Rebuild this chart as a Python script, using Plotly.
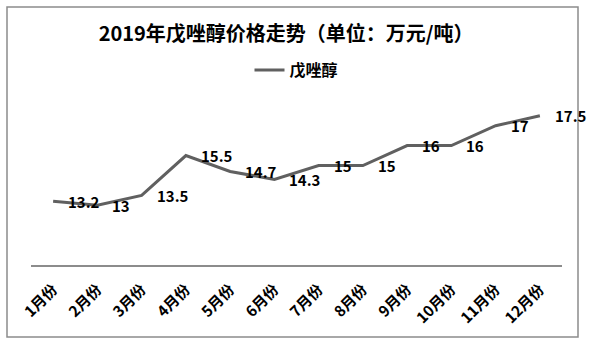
import plotly.graph_objects as go

months = ["1月份", "2月份", "3月份", "4月份", "5月份", "6月份",
          "7月份", "8月份", "9月份", "10月份", "11月份", "12月份"]
prices = [13.2, 13, 13.5, 15.5, 14.7, 14.3, 15, 15, 16, 16, 17, 17.5]
series_name = "戊唑醇"
title_text = "2019年戊唑醇价格走势（单位：万元/吨）"

W, H = 590, 344
L, R, T, B = 31, 28, 66, 79
pw, ph = W - L - R, H - T - B

font_cn = "Noto Sans CJK SC"

fig = go.Figure()
fig.add_trace(go.Scatter(
    x=months, y=prices, mode="lines", name=series_name,
    line=dict(color="#606060", width=3),
))

# value labels sit to the right of each point
for m, v in zip(months, prices):
    fig.add_annotation(
        x=m, y=v, text=f"{v:g}", showarrow=False,
        xanchor="left", yanchor="middle", xshift=13, yshift=0,
        font=dict(family=font_cn, size=15, color="#000000", weight="bold"),
    )

# outer chart border
def px_x(x):
    return (x - L) / pw

def px_y(y):
    return (H - B - y) / ph

fig.add_shape(
    type="rect", xref="paper", yref="paper",
    x0=px_x(7), x1=px_x(578), y0=px_y(337), y1=px_y(7),
    line=dict(color="#8c8c8c", width=1.5), fillcolor="rgba(0,0,0,0)",
    layer="below",
)

fig.update_layout(
    width=W, height=H,
    margin=dict(l=L, r=R, t=T, b=B),
    paper_bgcolor="white", plot_bgcolor="white",
    title=dict(text=title_text, x=0.485, xanchor="center", y=1 - 34 / H,
               yanchor="middle",
               font=dict(family=font_cn, size=20, color="#000000", weight="bold")),
    showlegend=True,
    legend=dict(orientation="h", x=0.5, xanchor="center", y=px_y(70),
                yanchor="middle", bgcolor="rgba(0,0,0,0)",
                font=dict(family=font_cn, size=16, color="#000000", weight="bold")),
    xaxis=dict(
        type="category", range=[-0.5, len(months) - 0.5],
        showgrid=False, zeroline=False,
        showline=True, linecolor="#8c8c8c", linewidth=1.5,
        ticks="", tickangle=-45, ticklabelstandoff=8,
        tickfont=dict(family=font_cn, size=15, color="#000000", weight="bold"),
    ),
    yaxis=dict(range=[10, 20], visible=False, showgrid=False),
)

fig.write_html("out.html")
